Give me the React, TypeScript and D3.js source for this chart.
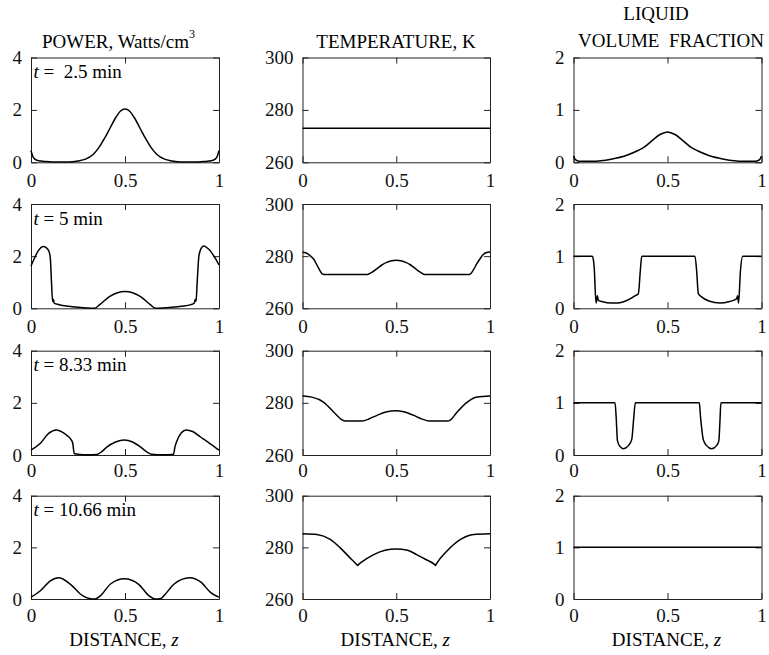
import React, { useEffect, useRef } from 'react'
import * as d3 from 'd3'

type Pt = [number, number]

// time of each row (minutes)
const times = ['2.5', '5', '8.33', '10.66']
const timeText = [' =  2.5 min', ' = 5 min', ' = 8.33 min', ' = 10.66 min']

const xTicks = [0, 0.5, 1]
const powerTicks = [0, 2, 4]
const tempTicks = [260, 280, 300]
const liquidTicks = [0, 1, 2]

// POWER, Watts/cm3  (z, P)
const power1: Pt[] = [[0, 0.45], [0.008, 0.25], [0.02, 0.12], [0.04, 0.06], [0.08, 0.03], [0.14, 0.01], [0.2, 0.01], [0.25, 0.05], [0.29, 0.12], [0.33, 0.3], [0.36, 0.55], [0.39, 0.9], [0.42, 1.3], [0.45, 1.7], [0.475, 1.95], [0.5, 2.03], [0.525, 1.95], [0.55, 1.7], [0.58, 1.3], [0.61, 0.9], [0.64, 0.55], [0.67, 0.3], [0.71, 0.12], [0.75, 0.05], [0.8, 0.01], [0.86, 0.01], [0.92, 0.03], [0.96, 0.06], [0.98, 0.12], [0.992, 0.25], [1, 0.45]]
const power2: Pt[] = [[0, 1.62], [0.02, 1.95], [0.04, 2.22], [0.065, 2.37], [0.08, 2.33], [0.095, 2.2], [0.103, 1.9], [0.109, 1.0], [0.115, 0.26], [0.119, 0.35], [0.123, 0.2], [0.15, 0.14], [0.2, 0.08], [0.25, 0.04], [0.3, 0.01], [0.337, 0], [0.364, 0.13], [0.417, 0.45], [0.46, 0.6], [0.5, 0.64], [0.54, 0.6], [0.583, 0.45], [0.636, 0.13], [0.663, 0], [0.7, 0.01], [0.75, 0.04], [0.8, 0.08], [0.85, 0.14], [0.868, 0.2], [0.874, 0.35], [0.878, 0.26], [0.884, 1.0], [0.893, 2.0], [0.905, 2.3], [0.918, 2.39], [0.935, 2.33], [0.95, 2.24], [0.975, 1.98], [1, 1.66]]
const power3: Pt[] = [[0, 0.19], [0.05, 0.45], [0.094, 0.83], [0.135, 0.96], [0.173, 0.85], [0.2, 0.7], [0.212, 0.6], [0.222, 0.45], [0.23, 0.06], [0.25, 0.03], [0.3, 0.01], [0.35, 0.02], [0.375, 0.12], [0.403, 0.3], [0.45, 0.5], [0.496, 0.575], [0.54, 0.5], [0.58, 0.32], [0.61, 0.15], [0.642, 0.03], [0.7, 0.01], [0.758, 0.03], [0.766, 0.32], [0.775, 0.52], [0.8, 0.85], [0.825, 0.96], [0.86, 0.9], [0.9, 0.7], [0.95, 0.45], [1, 0.19]]
const power4: Pt[] = [[0, 0.07], [0.05, 0.32], [0.103, 0.7], [0.147, 0.82], [0.21, 0.57], [0.272, 0.14], [0.31, 0.02], [0.34, 0], [0.37, 0.13], [0.423, 0.58], [0.497, 0.78], [0.574, 0.56], [0.627, 0.13], [0.662, 0], [0.69, 0.02], [0.707, 0.13], [0.76, 0.57], [0.844, 0.82], [0.902, 0.66], [0.956, 0.25], [1, 0.07]]

// TEMPERATURE, K
const temp1: Pt[] = [[0, 273], [0.5, 273], [1, 273]]
const temp2: Pt[] = [[0, 281.5], [0.02, 281.2], [0.04, 280.2], [0.06, 278.8], [0.085, 275.5], [0.105, 273.2], [0.115, 273], [0.2, 273], [0.346, 273], [0.37, 273.8], [0.396, 275.1], [0.425, 276.7], [0.449, 277.6], [0.475, 278.2], [0.5, 278.4], [0.525, 278.2], [0.551, 277.6], [0.575, 276.7], [0.604, 275.1], [0.63, 273.8], [0.652, 273], [0.8, 273], [0.89, 273], [0.912, 274.8], [0.929, 277], [0.947, 279], [0.964, 280.6], [0.982, 281.4], [1, 281.6]]
const temp3: Pt[] = [[0, 282.6], [0.05, 282.2], [0.112, 280.3], [0.166, 276.5], [0.21, 273.5], [0.228, 273], [0.317, 273], [0.36, 274], [0.4, 275.3], [0.45, 276.6], [0.496, 277], [0.54, 276.6], [0.59, 275.3], [0.63, 274], [0.683, 273], [0.772, 273], [0.79, 273.5], [0.825, 276.5], [0.879, 280.3], [0.932, 282.2], [1, 282.6]]
const temp4: Pt[] = [[0, 285.3], [0.077, 285], [0.148, 283.1], [0.2, 279.9], [0.246, 276.5], [0.29, 273.3], [0.294, 273], [0.298, 273.3], [0.34, 275.5], [0.38, 277.2], [0.44, 278.9], [0.5, 279.4], [0.56, 278.9], [0.611, 277.1], [0.66, 275.2], [0.705, 273.3], [0.709, 273], [0.713, 273.5], [0.772, 278.7], [0.843, 283.1], [0.914, 285], [1, 285.3]]

// LIQUID VOLUME FRACTION
const liquid1: Pt[] = [[0, 0.12], [0.01, 0.05], [0.03, 0.02], [0.1, 0.02], [0.2, 0.06], [0.28, 0.13], [0.34, 0.22], [0.38, 0.3], [0.42, 0.42], [0.46, 0.53], [0.5, 0.58], [0.54, 0.53], [0.58, 0.42], [0.62, 0.3], [0.66, 0.22], [0.72, 0.13], [0.8, 0.06], [0.9, 0.02], [0.97, 0.02], [0.99, 0.05], [1, 0.12]]
const liquid2: Pt[] = [[0, 1], [0.1, 1], [0.105, 0.95], [0.11, 0.79], [0.12, 0.1], [0.127, 0.24], [0.132, 0.15], [0.15, 0.13], [0.2, 0.1], [0.23, 0.1], [0.27, 0.13], [0.31, 0.2], [0.327, 0.24], [0.345, 0.28], [0.355, 0.7], [0.363, 1], [0.5, 1], [0.646, 1], [0.655, 0.72], [0.664, 0.28], [0.681, 0.22], [0.72, 0.14], [0.779, 0.1], [0.83, 0.13], [0.867, 0.18], [0.873, 0.24], [0.878, 0.1], [0.888, 0.72], [0.9, 1], [1, 1]]
const liquid3: Pt[] = [[0, 1], [0.221, 1], [0.227, 0.72], [0.234, 0.27], [0.248, 0.16], [0.265, 0.12], [0.292, 0.18], [0.31, 0.3], [0.319, 0.65], [0.329, 1], [0.5, 1], [0.669, 1], [0.676, 0.72], [0.69, 0.3], [0.708, 0.18], [0.735, 0.12], [0.761, 0.18], [0.773, 0.27], [0.779, 0.65], [0.784, 1], [1, 1]]
const liquid4: Pt[] = [[0, 1], [0.5, 1], [1, 1]]

const columns = [
  { ticks: powerTicks, series: [power1, power2, power3, power4] },
  { ticks: tempTicks, series: [temp1, temp2, temp3, temp4] },
  { ticks: liquidTicks, series: [liquid1, liquid2, liquid3, liquid4] },
]

const W = 769
const H = 655
const colLeft = [31, 302.5, 573.5]
const colWidth = [188, 187.5, 188]
const rowTop = [57.5, 204, 350.7, 495.7]
const rowBottom = [162.3, 308.3, 455, 599]
const xLabelGap = [24.5, 24.5, 22, 23.5]
const font = '"Liberation Serif", "Times New Roman", serif'
const fs = 19

function App() {
  const ref = useRef<SVGSVGElement>(null)

  useEffect(() => {
    const svg = d3.select(ref.current)
    svg.selectAll('*').remove()

    columns.forEach((col, ci) => {
      const x = d3.scaleLinear().domain([0, 1]).range([colLeft[ci], colLeft[ci] + colWidth[ci]])
      col.series.forEach((data, ri) => {
        const y = d3.scaleLinear()
          .domain([col.ticks[0], col.ticks[2]])
          .range([rowBottom[ri], rowTop[ri]])
        const g = svg.append('g')

        const styleAxis = (sel: any) => {
          sel.attr('font-family', font).attr('font-size', fs)
          sel.selectAll('path, line').attr('stroke', '#222').attr('stroke-width', 1)
          sel.selectAll('text').attr('fill', '#111')
        }

        g.append('g')
          .attr('transform', `translate(0,${y(col.ticks[0])})`)
          .call(d3.axisBottom(x).tickValues(xTicks).tickFormat(d3.format('')).tickSizeInner(-6).tickSizeOuter(0).tickPadding(xLabelGap[ri] - 13.5))
          .call(styleAxis)
        g.append('g')
          .attr('transform', `translate(0,${y(col.ticks[2])})`)
          .call(d3.axisTop(x).tickValues(xTicks).tickFormat(() => '').tickSizeInner(-6).tickSizeOuter(0))
          .call(styleAxis)
        g.append('g')
          .attr('transform', `translate(${x(0)},0)`)
          .call(d3.axisLeft(y).tickValues(col.ticks).tickFormat(d3.format('')).tickSizeInner(-6).tickSizeOuter(0).tickPadding(9))
          .call(styleAxis)
        g.append('g')
          .attr('transform', `translate(${x(1)},0)`)
          .call(d3.axisRight(y).tickValues(col.ticks).tickFormat(() => '').tickSizeInner(-6).tickSizeOuter(0))
          .call(styleAxis)

        const line = d3.line<Pt>()
          .x(d => x(d[0]))
          .y(d => y(d[1]))
          .curve(d3.curveMonotoneX)
        g.append('path')
          .datum(data)
          .attr('d', line)
          .attr('fill', 'none')
          .attr('stroke', '#000')
          .attr('stroke-width', 1.5)

        if (ci === 0) {
          const t = g.append('text')
            .attr('x', x(0) + 2.5)
            .attr('y', rowTop[ri] + 20.5)
            .attr('font-family', font)
            .attr('font-size', fs)
            .style('white-space', 'pre')
          t.append('tspan').attr('font-style', 'italic').text('t')
          t.append('tspan').text(timeText[ri])
        }
      })

      // x axis title under the last row
      const xl = svg.append('text')
        .attr('x', x(0.5) - 1)
        .attr('y', 646)
        .attr('text-anchor', 'middle')
        .attr('font-family', font)
        .attr('font-size', fs)
      xl.append('tspan').text('DISTANCE, ')
      xl.append('tspan').attr('font-style', 'italic').text('z')
    })

    const title = (tx: number, ty: number) => svg.append('text')
      .attr('x', tx)
      .attr('y', ty)
      .attr('text-anchor', 'middle')
      .attr('font-family', font)
      .attr('font-size', fs)
      .style('white-space', 'pre')

    const p = title(118.5, 47.7)
    p.append('tspan').text('POWER, Watts/cm')
    p.append('tspan').attr('dy', -10).attr('font-size', 12).text('3')
    title(396, 47.7).text('TEMPERATURE, K')
    title(656, 20).text('LIQUID')
    title(671, 46.7).text('VOLUME  FRACTION')
  }, [])

  return (
    <svg ref={ref} width={W} height={H}
      style={{ position: 'absolute', left: 0, top: 0, background: '#fff' }} />
  )
}

export default App
